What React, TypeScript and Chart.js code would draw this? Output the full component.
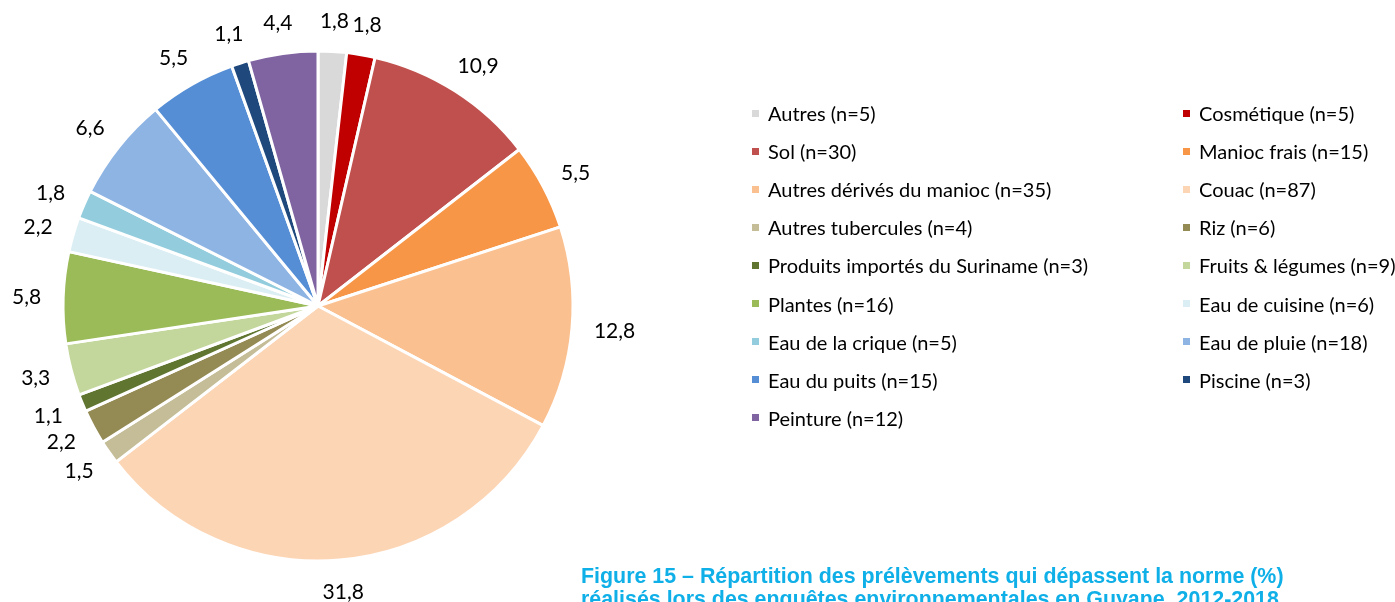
import React, { useEffect, useRef } from "react";
import { Chart, registerables } from "chart.js";

Chart.register(...registerables);

const categories = [
  "Autres (n=5)",
  "Cosmétique (n=5)",
  "Sol (n=30)",
  "Manioc frais (n=15)",
  "Autres dérivés du manioc (n=35)",
  "Couac (n=87)",
  "Autres tubercules (n=4)",
  "Riz (n=6)",
  "Produits importés du Suriname (n=3)",
  "Fruits & légumes (n=9)",
  "Plantes (n=16)",
  "Eau de cuisine (n=6)",
  "Eau de la crique (n=5)",
  "Eau de pluie (n=18)",
  "Eau du puits (n=15)",
  "Piscine (n=3)",
  "Peinture (n=12)",
];

const values = [1.8, 1.8, 10.9, 5.5, 12.8, 31.8, 1.5, 2.2, 1.1, 3.3, 5.8, 2.2, 1.8, 6.6, 5.5, 1.1, 4.4];

const colors = [
  "#D9D9D9",
  "#C00000",
  "#C0504D",
  "#F79646",
  "#FAC090",
  "#FCD5B5",
  "#C4BD97",
  "#948A54",
  "#5F7530",
  "#C3D69B",
  "#9BBB59",
  "#DBEEF4",
  "#93CDDD",
  "#8EB4E3",
  "#558ED5",
  "#1F497D",
  "#8064A2",
];

const titleLines = [
  "Figure 15 – Répartition des prélèvements qui dépassent la norme (%)",
  "réalisés lors des enquêtes environnementales en Guyane, 2012-2018",
];

const fmt = (v: number) => v.toFixed(1).replace(".", ",");

const outsideLabels = {
  id: "outsideLabels",
  afterDatasetsDraw(chart: any) {
    const ctx = chart.ctx;
    const meta = chart.getDatasetMeta(0);
    ctx.save();
    ctx.font = "21px Lato";
    ctx.fillStyle = "#000";
    ctx.textAlign = "center";
    ctx.textBaseline = "middle";
    const halfH = 9;
    meta.data.forEach((arc: any, i: number) => {
      const p = arc.getProps(["x", "y", "startAngle", "endAngle", "outerRadius"], true);
      const mid = (p.startAngle + p.endAngle) / 2;
      const text = fmt(values[i]);
      const halfW = ctx.measureText(text).width / 2;
      const r = p.outerRadius + 22;
      const cx = Math.cos(mid);
      const sy = Math.sin(mid);
      const x = p.x + cx * r + cx * halfW;
      const y = p.y + sy * r + sy * halfH + 1;
      ctx.fillText(text, x, y);
    });
    ctx.restore();
  },
};

export default function App() {
  const ref = useRef<HTMLCanvasElement | null>(null);

  useEffect(() => {
    document.body.style.margin = "0";
    const c = new Chart(ref.current as HTMLCanvasElement, {
      type: "pie",
      data: {
        labels: categories,
        datasets: [
          {
            data: values,
            backgroundColor: colors,
            borderColor: "#FFFFFF",
            borderWidth: 3,
          },
        ],
      },
      options: {
        responsive: false,
        animation: false,
        radius: 255,
        layout: { padding: { left: 63, right: 822, top: 51, bottom: 41 } },
        plugins: {
          legend: { display: false },
          tooltip: { enabled: false },
          title: { display: false },
        },
      } as any,
      plugins: [outsideLabels],
    });
    return () => c.destroy();
  }, []);

  const rowH = 38.1;
  return (
    <div
      style={{
        position: "fixed",
        left: 0,
        top: 0,
        width: 1395,
        height: 602,
        background: "#fff",
        overflow: "hidden",
      }}
    >
      <canvas ref={ref} width={1395} height={602} style={{ position: "absolute", left: 0, top: 0 }} />
      {categories.map((c, i) => {
        const col = i % 2;
        const row = Math.floor(i / 2);
        const cy = 113 + row * rowH;
        const mx = col === 0 ? 752 : 1183;
        return (
          <div key={c}>
            <div
              style={{
                position: "absolute",
                left: mx,
                top: cy - 3.5,
                width: 7,
                height: 7,
                background: colors[i],
              }}
            />
            <div
              style={{
                position: "absolute",
                left: mx + 16,
                top: cy - 12,
                height: 24,
                lineHeight: "24px",
                fontFamily: "Lato",
                fontSize: 20,
                color: "#000",
                whiteSpace: "nowrap",
              }}
            >
              {c}
            </div>
          </div>
        );
      })}
      <div
        style={{
          position: "absolute",
          left: 581,
          top: 564.5,
          fontFamily: "'Liberation Sans', Arial, sans-serif",
          fontWeight: "bold",
          fontSize: 21.4,
          lineHeight: "23px",
          color: "#0FAFE8",
          whiteSpace: "nowrap",
        }}
      >
        {titleLines.map((t) => (
          <div key={t}>{t}</div>
        ))}
      </div>
    </div>
  );
}
